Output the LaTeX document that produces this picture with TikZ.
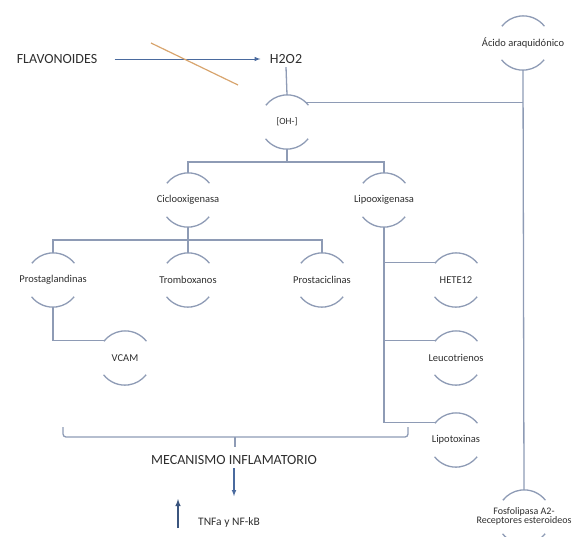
\documentclass[tikz,border=0pt]{standalone}
\usepackage{fontspec}
\setmainfont{Carlito}
\usetikzlibrary{arrows,calc,positioning}
\definecolor{linegray}{HTML}{8E9BB5}
\definecolor{arrowblue}{HTML}{4A6A9E}
\definecolor{textgray}{HTML}{2E2E2E}
\definecolor{crossline}{HTML}{D8A56E}
\newcommand{\lbl}[1]{\makebox[0pt]{#1}}

\begin{document}
\begin{tikzpicture}[x=1pt,y=-1pt,
	arcnode/.style={circle,minimum size=54pt,inner sep=0pt,font=\fontsize{10.5}{12}\selectfont,text=textgray},
	arcline/.style={draw=linegray,line width=1.3pt},
	bus/.style={draw=linegray,line width=1.3pt},
	bigtext/.style={font=\fontsize{14}{16}\selectfont,text=textgray},
	flow/.style={draw=arrowblue,line width=1.1pt,-latex}]
				\useasboundingbox (0,0) rectangle (585,536);
				% texto
				\node[bigtext] (flav) at (57,59) {FLAVONOIDES};
				\node[bigtext] (h2o2) at (286,59) {H2O2};
				\node[bigtext] (mec) at (234,460) {MECANISMO INFLAMATORIO};
				\node[font=\fontsize{11.5}{12}\selectfont,text=textgray] (tnf) at (229,522) {TNFa y NF-kB};
				% nodos
				\node[arcnode] (oh) at (287,122) {\lbl{\fontsize{9.5}{10}\selectfont[OH-]}};
				\node[arcnode] (acido) at (523,43) {\lbl{\'Acido araquid\'onico}};
				\node[arcnode] (ciclo) at (188,200) {\lbl{Ciclooxigenasa}};
				\node[arcnode] (lipo) at (384,200) {\lbl{Lipooxigenasa}};
				\node[arcnode] (prosg) at (53,280) {\lbl{Prostaglandinas}};
				\node[arcnode] (tromb) at (188,280) {\lbl{Tromboxanos}};
				\node[arcnode] (prosc) at (322,280) {\lbl{Prostaciclinas}};
				\node[arcnode] (vcam) at (125,358) {\lbl{VCAM}};
				\node[arcnode] (hete) at (456,280) {\lbl{HETE12}};
				\node[arcnode] (leuco) at (456,358) {\lbl{Leucotrienos}};
				\node[arcnode] (lipot) at (456,440) {\lbl{Lipotoxinas}};
				\node[arcnode] (fosfo) at (524,517) {\lbl{\fontsize{10}{11}\selectfont\begin{tabular}{@{}c@{}}Fosfolipasa A2-\\[-2pt]Receptores esteroideos\end{tabular}}};
				\foreach \n in {oh,acido,ciclo,lipo,prosg,tromb,prosc,vcam,hete,leuco,lipot,fosfo} {
					\draw[arcline] (\n.38) arc[start angle=38,end angle=142,radius=27pt];
					\draw[arcline] (\n.218) arc[start angle=218,end angle=322,radius=27pt];
				}
				% conexiones
				\draw[flow,line width=1pt,shorten <=14pt,shorten >=6pt] (flav) -- (h2o2);
				\draw[crossline,line width=1.2pt] (151,43) to (238,85);
				\draw[bus] (h2o2.south) -- (oh.north);
				\draw[bus] (acido.south) -- (fosfo.north);
				\draw[bus] (oh.45) -- (oh.45 -| acido.south);
				\coordinate (b1) at (287,162);
				\draw[bus] (oh.south) -- (b1);
				\draw[bus] (ciclo.north) |- (b1) -| (lipo.north);
				\coordinate (b2) at (188,240);
				\draw[bus] (ciclo.south) -- (tromb.north);
				\draw[bus] (prosg.north) |- (b2) -| (prosc.north);
				\draw[bus] (prosg.south) |- (vcam.140);
				\draw[bus] (lipo.south) |- (hete.140);
				\draw[bus] (lipo.south) |- (leuco.140);
				\draw[bus] (lipo.south) |- (lipot.140);
				% llave
				\coordinate (brl) at (63,427);
				\coordinate (brr) at (408,427);
				\coordinate (brm) at (235,437);
				\draw[bus,rounded corners=3pt] (brl) |- (brm) -| (brr);
				\draw[bus] (brm) -- ++(0,10);
				\draw[flow] (mec.south) -- ++(0,28);
				\draw[flow,draw=arrowblue!80!black,line width=1.4pt] (178,528) -- (178,499);
	\end{tikzpicture}
\end{document}
